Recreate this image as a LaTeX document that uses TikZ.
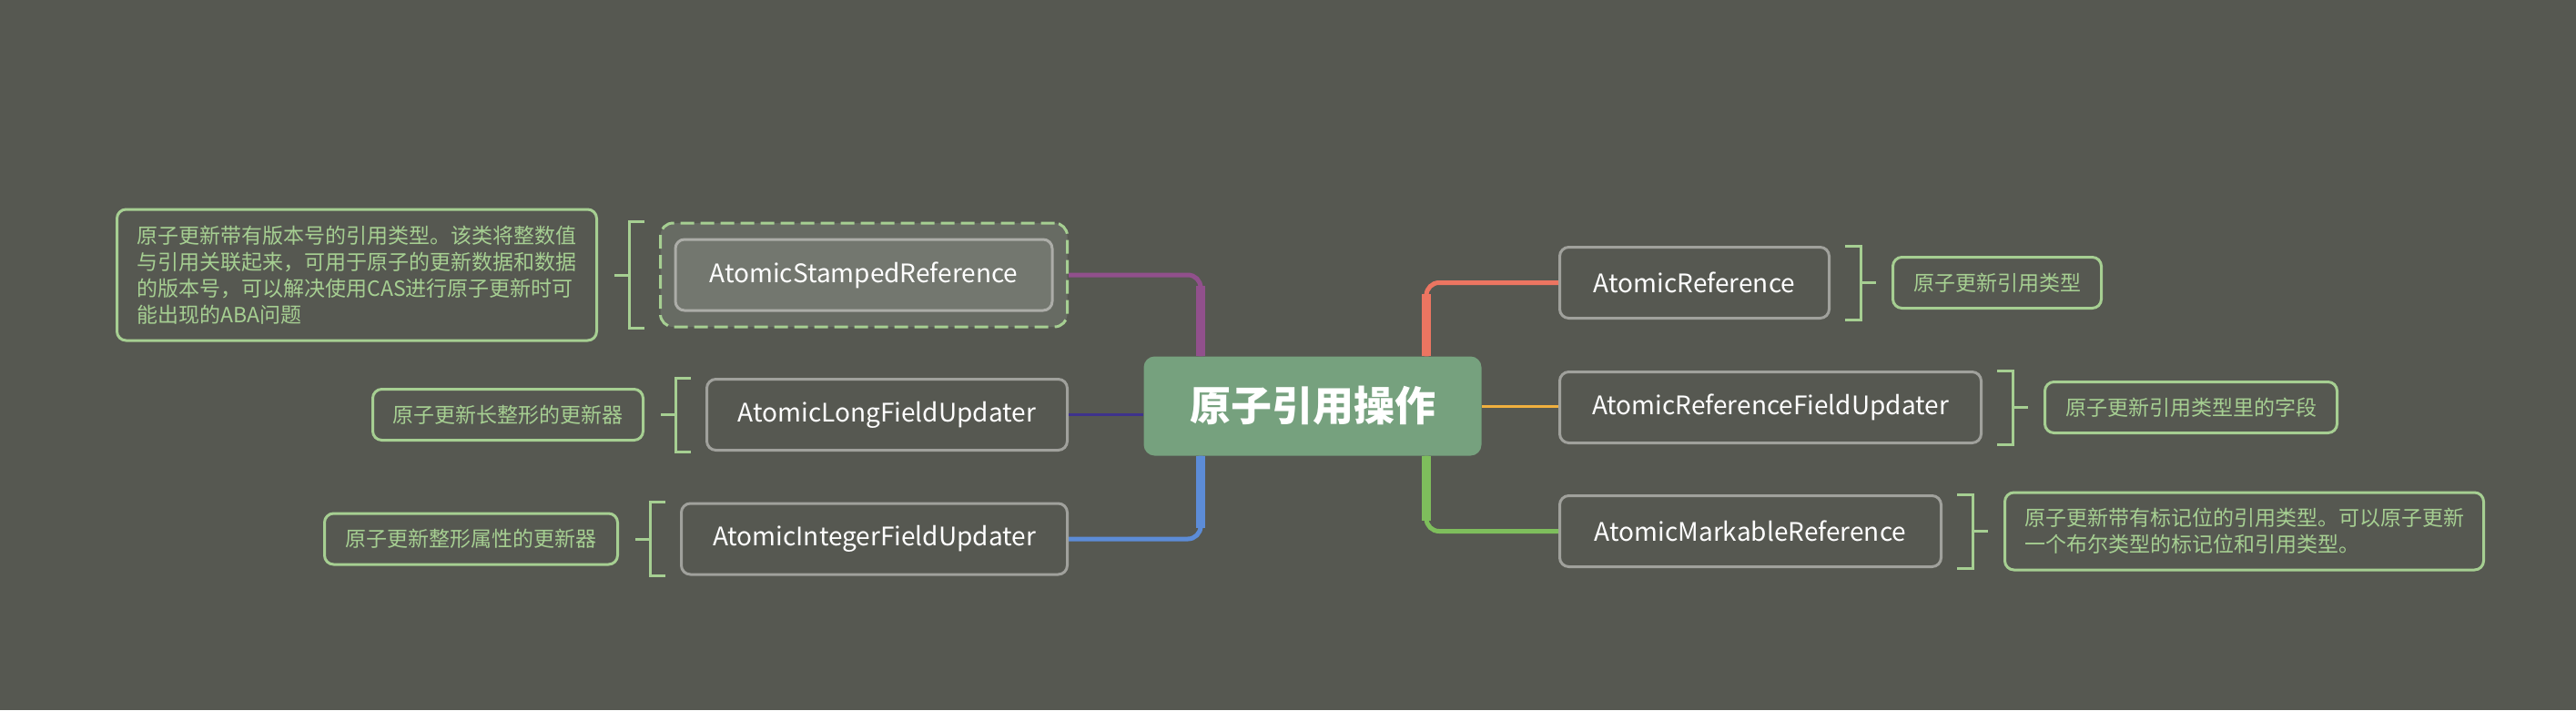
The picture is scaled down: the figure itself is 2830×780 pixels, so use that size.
\documentclass[tikz,border=0pt]{standalone}
\usepackage{fontspec}
\setmainfont{Noto Sans CJK SC}
\usepackage{tikz}
\usetikzlibrary{calc, positioning}
\usepackage{xcolor}
\definecolor{canvasBg}{RGB}{86, 88, 81}
\definecolor{rootFill}{RGB}{118, 161, 126}
\definecolor{noteGreen}{RGB}{166, 207, 146}
\definecolor{topicLine}{RGB}{160, 161, 156}
\definecolor{hlLine}{RGB}{172, 173, 168}
\definecolor{hlFill}{RGB}{103, 107, 99}
\definecolor{brPurple}{RGB}{145, 80, 140}
\definecolor{brIndigo}{RGB}{62, 50, 140}
\definecolor{brBlue}{RGB}{92, 140, 215}
\definecolor{brRed}{RGB}{236, 117, 97}
\definecolor{brOrange}{RGB}{240, 176, 62}
\definecolor{brGreen}{RGB}{126, 190, 92}

\begin{document}
\begin{tikzpicture}[x=1pt, y=-1pt,
  topicbox/.style={draw=topicLine, line width=3pt, rounded corners=10pt,
    minimum height=78pt, inner sep=0pt, text=white,
    font=\fontsize{28}{32}\selectfont},
  notebox/.style={draw=noteGreen, line width=3pt, rounded corners=10pt,
    minimum height=56pt, inner xsep=21pt, inner ysep=8pt, text=noteGreen,
    align=left, font=\fontsize{23}{29}\selectfont},
  bracketline/.style={draw=noteGreen, line width=3pt},
  branchline/.style={line width=5pt, rounded corners=14pt},
  trunkline/.style={line width=10pt}]
  \fill[canvasBg] (0,0) rectangle (2830,780);
  \useasboundingbox (0,0) rectangle (2830,780);

  % central topic
  \node[fill=rootFill, rounded corners=12pt, minimum width=371pt,
        minimum height=109pt, text=white,
        font=\fontsize{45}{50}\selectfont\bfseries] (root) at (1442,446) {原子引用操作};

  % left topics
  \node[draw=noteGreen, dash pattern=on 15pt off 7pt, line width=3pt,
        fill=hlFill, rounded corners=14pt, minimum width=447pt,
        minimum height=114pt, anchor=east] (stampHl) at (1174,302) {};
  \node[topicbox, draw=hlLine, fill=hlFill!92!white, minimum width=414pt]
    (stamp) at (stampHl.center) {AtomicStampedReference};
  \node[topicbox, minimum width=396pt, anchor=east] (longUpd) at (1174,455.5)
    {AtomicLongFieldUpdater};
  \node[topicbox, minimum width=424pt, anchor=east] (intUpd) at (1174,592)
    {AtomicIntegerFieldUpdater};

  % right topics
  \node[topicbox, minimum width=296pt, anchor=west] (atomRef) at (1712,310.5)
    {AtomicReference};
  \node[topicbox, minimum width=463pt, anchor=west] (refUpd) at (1712,447.5)
    {AtomicReferenceFieldUpdater};
  \node[topicbox, minimum width=419pt, anchor=west] (markRef) at (1712,583.5)
    {AtomicMarkableReference};

  % notes
  \node[notebox, minimum width=527pt, minimum height=144pt, left=67pt of stampHl]
    (stampNote) {原子更新带有版本号的引用类型。该类将整数值\\
                 与引用关联起来，可用于原子的更新数据和数据\\
                 的版本号，可以解决使用CAS进行原子更新时可\\
                 能出现的ABA问题};
  \node[notebox, minimum width=297pt, left=67pt of longUpd] (longNote)
    {原子更新长整形的更新器};
  \node[notebox, minimum width=322pt, left=67pt of intUpd] (intNote)
    {原子更新整形属性的更新器};
  \node[notebox, minimum width=229pt, right=67pt of atomRef] (refNote)
    {原子更新引用类型};
  \node[notebox, minimum width=321pt, right=67pt of refUpd] (refUpdNote)
    {原子更新引用类型里的字段};
  \node[notebox, minimum width=526pt, minimum height=85pt, right=67pt of markRef]
    (markNote) {原子更新带有标记位的引用类型。可以原子更新\\
                一个布尔类型的标记位和引用类型。};

  % branches
  \coordinate (pL) at ([xshift=-123pt]root.north);
  \coordinate (qL) at ([xshift=-123pt]root.south);
  \coordinate (pR) at ([xshift=125pt]root.north);
  \coordinate (qR) at ([xshift=125pt]root.south);

  \draw[branchline, brPurple] (pL) |- (stampHl.east);
  \draw[trunkline, brPurple] (pL) -- ($(pL |- stampHl.east)+(0,12)$);
  \draw[line width=3pt, brIndigo] (longUpd.east) -- (longUpd.east -| root.west);
  \draw[branchline, brBlue] (qL) |- (intUpd.east);
  \draw[trunkline, brBlue] (qL) -- ($(qL |- intUpd.east)+(0,-12)$);

  \draw[branchline, brRed] (pR) |- (atomRef.west);
  \draw[trunkline, brRed] (pR) -- ($(pR |- atomRef.west)+(0,12)$);
  \draw[line width=3pt, brOrange] (root.east) -- (root.east -| refUpd.west);
  \draw[branchline, brGreen] (qR) |- (markRef.west);
  \draw[trunkline, brGreen] (qR) -- ($(qR |- markRef.west)+(0,-12)$);

  % brackets to notes
  \draw[bracketline] ([xshift=-16pt]stampHl.north west) -- ++(-17,0)
    |- ([xshift=-16pt]stampHl.south west);
  \draw[bracketline] ([xshift=-33pt]stampHl.west) -- ([xshift=18pt]stampNote.east);
  \draw[bracketline] ([xshift=-16pt]longUpd.north west) -- ++(-17,0)
    |- ([xshift=-16pt]longUpd.south west);
  \draw[bracketline] ([xshift=-33pt]longUpd.west) -- ([xshift=18pt]longNote.east);
  \draw[bracketline] ([xshift=-16pt]intUpd.north west) -- ++(-17,0)
    |- ([xshift=-16pt]intUpd.south west);
  \draw[bracketline] ([xshift=-33pt]intUpd.west) -- ([xshift=18pt]intNote.east);

  \draw[bracketline] ([xshift=16pt]atomRef.north east) -- ++(17,0)
    |- ([xshift=16pt]atomRef.south east);
  \draw[bracketline] ([xshift=33pt]atomRef.east) -- ([xshift=-17pt]refNote.west);
  \draw[bracketline] ([xshift=16pt]refUpd.north east) -- ++(17,0)
    |- ([xshift=16pt]refUpd.south east);
  \draw[bracketline] ([xshift=33pt]refUpd.east) -- ([xshift=-17pt]refUpdNote.west);
  \draw[bracketline] ([xshift=16pt]markRef.north east) -- ++(17,0)
    |- ([xshift=16pt]markRef.south east);
  \draw[bracketline] ([xshift=33pt]markRef.east) -- ([xshift=-17pt]markNote.west);
\end{tikzpicture}
\end{document}
